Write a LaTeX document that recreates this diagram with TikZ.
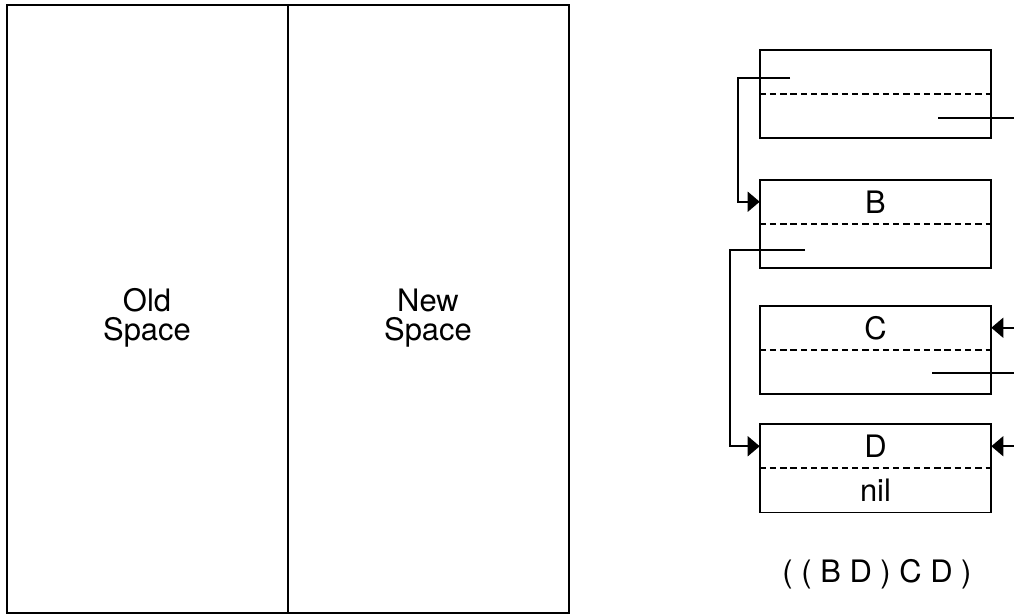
\documentclass[tikz,border=0pt]{standalone}
\usepackage{fontspec}
\setmainfont{TeX Gyre Heros}
\usetikzlibrary{arrows.meta,positioning,calc}
\tikzset{
  half/.style={rectangle, minimum width=5.775cm, minimum height=1.0875cm, inner sep=0pt,
    font=\fontsize{22}{20.6}\selectfont},
  frame/.style={draw=black, line width=1.2pt},
  sep/.style={draw=black, line width=1.6pt, dash pattern=on 4.5pt off 2.8pt},
  link/.style={draw=black, line width=1.2pt},
  ptr/.style={draw=black, line width=1.2pt, -{Triangle[length=3mm,width=5mm]}},
  spacetxt/.style={align=center, font=\fontsize{22}{20.6}\selectfont},
}
\begin{document}
\begin{tikzpicture}[x=0.025cm, y=-0.025cm]
  \useasboundingbox (0,0) rectangle (1014,616);

  % semispaces
  \draw[frame] (7,5) rectangle (569,613);
  \draw[frame] (288,5) -- (288,613);
  \node[spacetxt] (old) at (147,318) {Old\\Space};
  \node[spacetxt] (new) at (428,318) {New\\Space};

  % cons cells
  \node[half] (c1car) at (875.5,71.75) {};
  \node[half, below=0pt of c1car] (c1cdr) {};
  \node[half] (bcar) at (875.5,201.75) {B};
  \node[half, below=0pt of bcar] (bcdr) {};
  \node[half] (ccar) at (875.5,327.75) {C};
  \node[half, below=0pt of ccar] (ccdr) {};
  \node[half] (dcar) at (875.5,446.25) {D};
  \node[half, below=0pt of dcar] (dcdr) {nil};
  \foreach \n in {c1,b,c,d} {
    \draw[frame] (\n car.north west) rectangle (\n cdr.south east);
    \draw[sep] (\n car.south west) -- (\n car.south east);
  }

  % pointers
  \coordinate (p1) at (790,78);
  \coordinate (k1) at (738,78);
  \draw[ptr] (p1) -- (k1) |- (bcar.west);
  \coordinate (p2) at (805,250);
  \coordinate (k2) at (730,250);
  \draw[ptr] (p2) -- (k2) |- (dcar.west);
  \coordinate (p3) at (938,118);
  \coordinate (e3) at (1014,118);
  \draw[link] (p3) -- (e3);
  \coordinate (p4) at (932,373);
  \coordinate (e4) at (1014,373);
  \draw[link] (p4) -- (e4);
  \coordinate (e5) at (1014,327.75);
  \draw[ptr] (e5) -- (ccar.east);
  \coordinate (e6) at (1014,446.25);
  \draw[ptr] (e6) -- (dcar.east);

  \node[spacetxt] (expr) at (877,574) {( ( B D ) C D )};
\end{tikzpicture}
\end{document}
